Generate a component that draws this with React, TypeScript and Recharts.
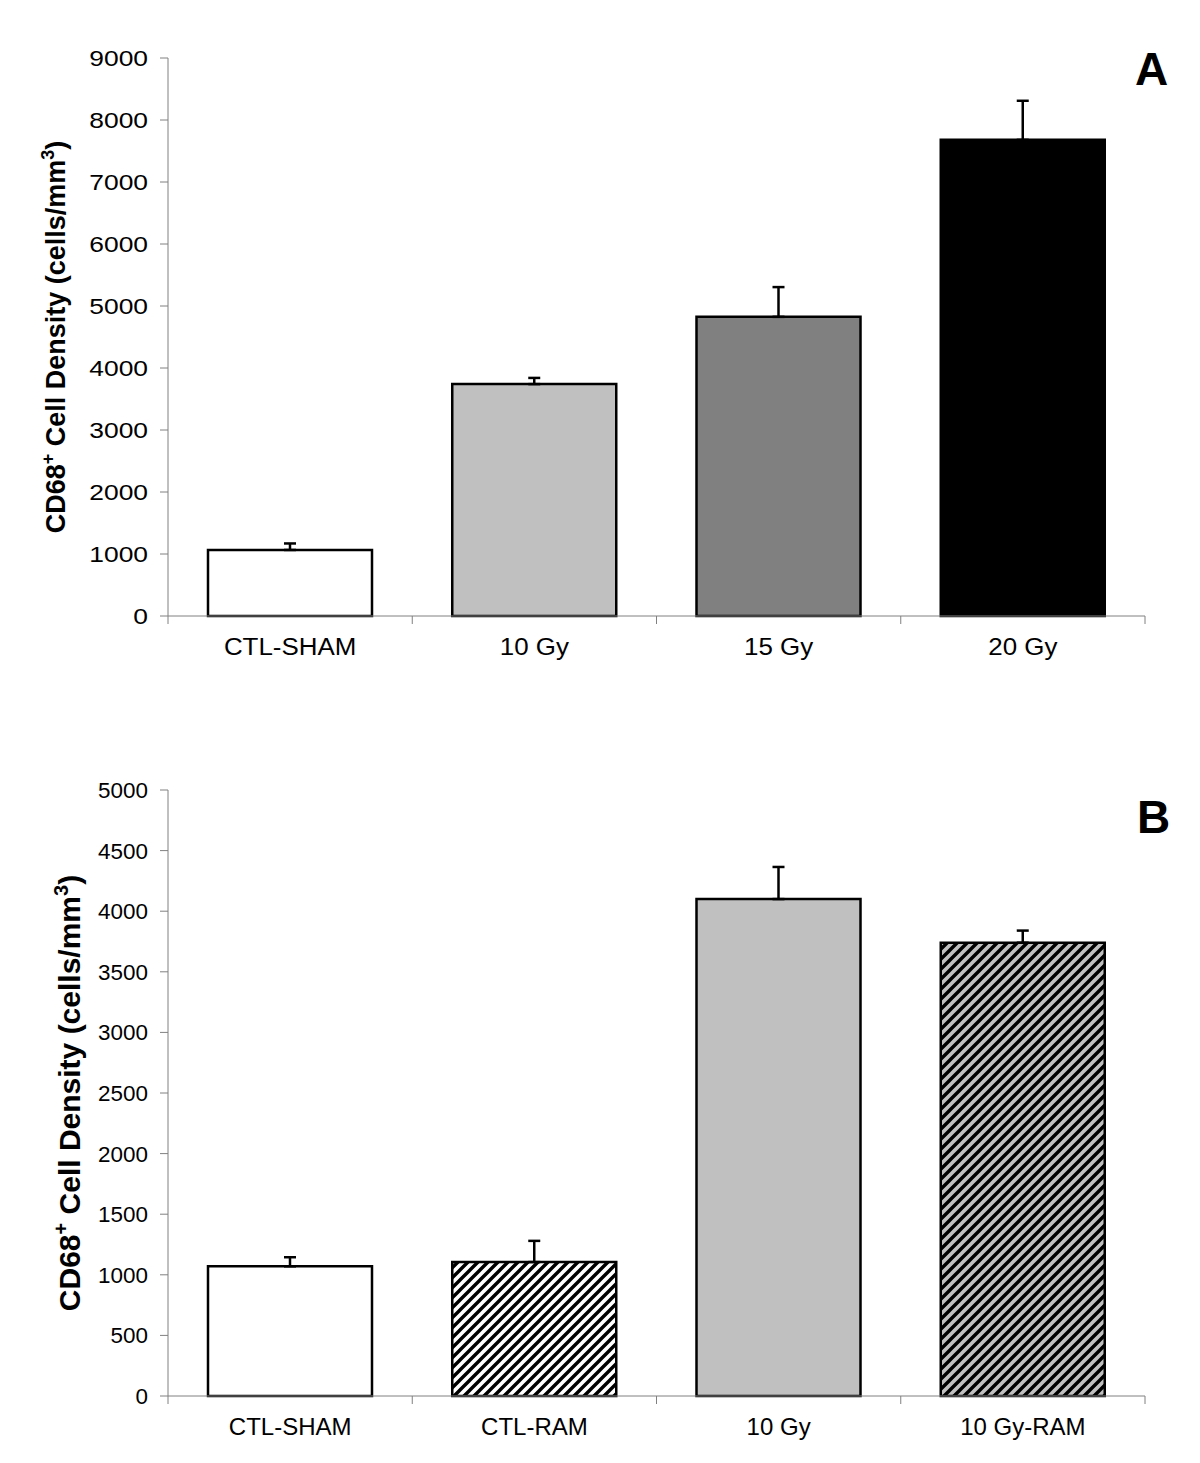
import { BarChart, Bar, XAxis, YAxis, ErrorBar, Cell } from "recharts";

const FONT = "'Liberation Sans', Arial, Helvetica, sans-serif";
const AXIS_GREY = "#808080";

// panel A - dose response
const groupsA = ["CTL-SHAM", "10 Gy", "15 Gy", "20 Gy"];
const meansA = [1065, 3740, 4825, 7680];
const semA = [105, 100, 480, 630];
const ticksA = [0, 1000, 2000, 3000, 4000, 5000, 6000, 7000, 8000, 9000];

// panel B - RAM treatment
const groupsB = ["CTL-SHAM", "CTL-RAM", "10 Gy", "10 Gy-RAM"];
const meansB = [1070, 1105, 4100, 3740];
const semB = [75, 175, 265, 100];
const ticksB = [0, 500, 1000, 1500, 2000, 2500, 3000, 3500, 4000, 4500, 5000];

const fillsA = ["#ffffff", "#c0c0c0", "#808080", "#000000"];
const fillsB = ["#ffffff", "url(#hatchWhite)", "#c0c0c0", "url(#hatchGrey)"];

const rowsA = groupsA.map((g, i) => ({ group: g, mean: meansA[i], err: [0, semA[i]] }));
const rowsB = groupsB.map((g, i) => ({ group: g, mean: meansB[i], err: [0, semB[i]] }));

function YTick(props: any) {
  const { x, y, payload, size, stretch } = props;
  return (
    <g transform={`translate(${x},${y}) scale(${stretch},1)`}>
      <text x={0} y={0} dy="0.36em" textAnchor="end" fontSize={size} fontFamily={FONT} fill="#000">
        {payload.value}
      </text>
    </g>
  );
}

function XTick(props: any) {
  const { x, y, payload, width, visibleTicksCount, index, size, stretch } = props;
  const half = payload.offset || width / visibleTicksCount / 2;
  const top = y - 8;
  return (
    <g>
      <line x1={x - half} x2={x - half} y1={top} y2={y} stroke={AXIS_GREY} />
      {index === visibleTicksCount - 1 && (
        <line x1={x + half} x2={x + half} y1={top} y2={y} stroke={AXIS_GREY} />
      )}
      <g transform={`translate(${x},${y + 31}) scale(${stretch},1)`}>
        <text x={0} y={0} textAnchor="middle" fontSize={size} fontFamily={FONT} fill="#000">
          {payload.value}
        </text>
      </g>
    </g>
  );
}

function Panel({ rows, fills, ticks, max, height, top, bottom, tickSize, tickStretch, xStretch, defs }: any) {
  return (
    <BarChart
      width={1200}
      height={height}
      data={rows}
      margin={{ top, right: 55, left: 0, bottom }}
    >
      {defs}
      <XAxis
        dataKey="group"
        height={60}
        stroke={AXIS_GREY}
        tickLine={false}
        tickSize={8}
        tickMargin={0}
        interval={0}
        tick={(p: any) => <XTick {...p} size={24} stretch={xStretch} />}
      />
      <YAxis
        width={168}
        domain={[0, max]}
        ticks={ticks}
        interval={0}
        stroke={AXIS_GREY}
        tickSize={8}
        tickMargin={12}
        tick={(p: any) => <YTick {...p} size={tickSize} stretch={tickStretch} />}
      />
      <Bar dataKey="mean" barSize={164} stroke="#000" strokeWidth={2.5} isAnimationActive={false}>
        {rows.map((_: any, i: number) => (
          <Cell key={`c-${i}`} fill={fills[i]} />
        ))}
        <ErrorBar dataKey="err" direction="y" width={6} stroke="#000" strokeWidth={2.5} />
      </Bar>
    </BarChart>
  );
}

function Title({ x, y, size }: any) {
  const sup = Math.round(size * 0.65);
  const lift = Math.round(size * 0.4);
  return (
    <text
      transform={`translate(${x},${y}) rotate(-90)`}
      textAnchor="middle"
      fontSize={size}
      fontWeight="bold"
      fontFamily={FONT}
      fill="#000"
    >
      CD68
      <tspan fontSize={sup} dy={-lift}>+</tspan>
      <tspan dy={lift}> Cell Density (cells/mm</tspan>
      <tspan fontSize={sup} dy={-lift}>3</tspan>
      <tspan dy={lift}>)</tspan>
    </text>
  );
}

export default function App() {
  const patterns = (
    <defs>
      <pattern id="hatchWhite" patternUnits="userSpaceOnUse" width={10} height={10}>
        <rect width={10} height={10} fill="#ffffff" />
        <path d="M-2,2 L2,-2 M0,10 L10,0 M8,12 L12,8" stroke="#000" strokeWidth={3.4} />
      </pattern>
      <pattern id="hatchGrey" patternUnits="userSpaceOnUse" width={10} height={10}>
        <rect width={10} height={10} fill="#c0c0c0" />
        <path d="M-2,2 L2,-2 M0,10 L10,0 M8,12 L12,8" stroke="#000" strokeWidth={3.4} />
      </pattern>
    </defs>
  );

  return (
    <div style={{ position: "absolute", left: 0, top: 0, width: 1200, height: 1463, background: "#fff" }}>
      <div style={{ position: "absolute", left: 0, top: 0 }}>
        <Panel
          rows={rowsA}
          fills={fillsA}
          ticks={ticksA}
          max={9000}
          height={700}
          top={58}
          bottom={24}
          tickSize={22}
          tickStretch={1.2}
          xStretch={1.08}
        />
      </div>
      <div style={{ position: "absolute", left: 0, top: 700 }}>
        <Panel
          rows={rowsB}
          fills={fillsB}
          ticks={ticksB}
          max={5000}
          height={763}
          top={90}
          bottom={7}
          tickSize={22}
          tickStretch={1.02}
          xStretch={1.0}
          defs={patterns}
        />
      </div>
      <svg
        width={1200}
        height={1463}
        style={{ position: "absolute", left: 0, top: 0, pointerEvents: "none" }}
      >
        <Title x={65} y={337} size={27} />
        <Title x={80} y={1093} size={30} />
        <text x={1135} y={85} fontSize={46} fontWeight="bold" fontFamily={FONT} fill="#000">A</text>
        <text x={1137} y={833} fontSize={46} fontWeight="bold" fontFamily={FONT} fill="#000">B</text>
      </svg>
    </div>
  );
}
